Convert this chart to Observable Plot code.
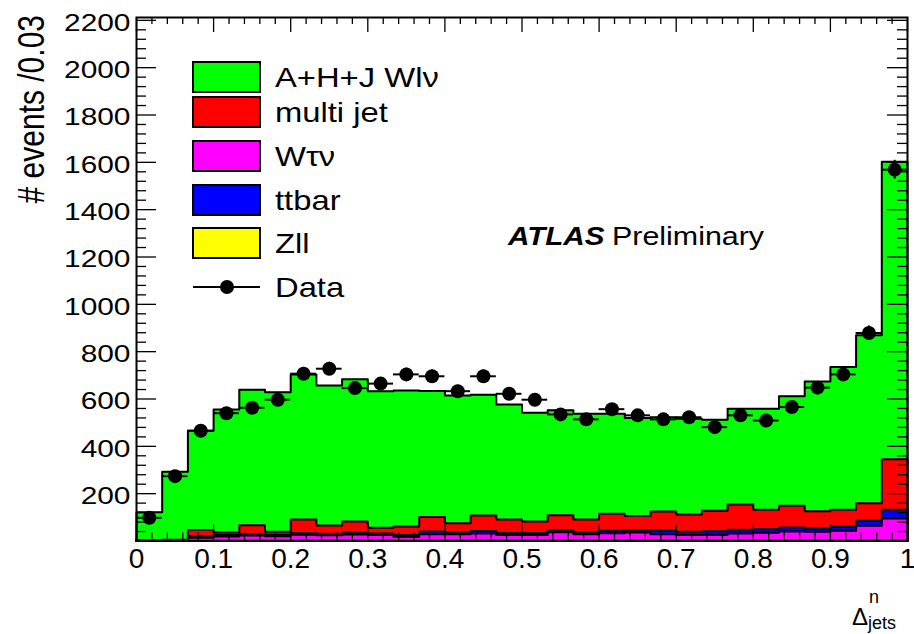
<!DOCTYPE html>
<html><head><meta charset="utf-8">
<script src="https://cdn.jsdelivr.net/npm/d3@7"></script>
<script src="https://cdn.jsdelivr.net/npm/@observablehq/plot@0.6"></script>
<style>body{margin:0;background:#fff} svg{display:block}</style>
</head><body><div id="chart"></div>
<script>
// ---------- data ----------
const nBins = 30;
const binEdges = d3.range(nBins).map(i => i / nBins);   // lower bin edges, width 1/30
const zll      = [1,1,1,1,1,1,1,1,1,1,1,1,1,1,1,1,1,1,1,1,1,1,1,1,1,1,1,1,1,1];
const wtaunu   = [2,2,13,18,22,19,25,23,26,24,16,28,27,31,24,24,36,27,32,35,28,24,24,31,34,39,38,42,63,94];
const ttbar    = [1,1,6,6,7,6,7,7,8,7,8,11,9,10,9,9,10,10,10,10,15,14,16,16,15,17,14,17,22,37];
const multijet = [0,1,27,11,37,13,58,35,47,24,36,61,38,66,57,48,62,53,72,60,81,73,87,106,82,92,73,72,74,213];
const wlnu     = [118,288,419,520,572,590,613,591,601,577,575,533,540,510,486,460,443,447,423,414,398,405,384,405,427,463,548,603,709,1257];
const dataCounts = [98,274,466,540,563,597,707,728,646,665,704,696,633,696,622,597,535,514,557,531,514,523,481,531,509,566,648,704,879,1569];

const legendLabels = ["A+H+J Wl\u03bd", "multi jet", "W\u03c4\u03bd", "ttbar", "Zll"];
const legendColors = ["#00ff00", "#ff0000", "#ff00ff", "#0000ff", "#ffff00"];
const yTickLabels = [200,400,600,800,1000,1200,1400,1600,1800,2000,2200];
const xTickLabels = [0,0.1,0.2,0.3,0.4,0.5,0.6,0.7,0.8,0.9,1];

// ---------- layout ----------
const W = 914, H = 634, mL = 136, mR = 7, mT = 17, mB = 93.5;
const yMax = 2212;
const frameW = W - mL - mR, frameH = H - mT - mB;
const font = "'Liberation Sans', Arial, Helvetica, sans-serif";

// stacked series, bottom first
const series = [
  {values: zll, color: "#ffff00"},
  {values: wtaunu, color: "#ff00ff"},
  {values: ttbar, color: "#0000ff"},
  {values: multijet, color: "#ff0000"},
  {values: wlnu, color: "#00ff00"}
];
let cum = binEdges.map(() => 0);
for (const s of series) { cum = cum.map((c, i) => c + s.values[i]); s.top = cum.slice(); }

const marks = [];
for (const s of [...series].reverse()) {
  const pts = binEdges.map((x, i) => ({x, y: s.top[i]})).concat([{x: 1, y: s.top[nBins - 1]}]);
  marks.push(Plot.areaY(pts, {x: "x", y: "y", curve: "step-after", fill: s.color}));
  const outline = [{x: 0, y: 0}, ...pts, {x: 1, y: 0}];
  marks.push(Plot.line(outline, {x: "x", y: "y", curve: "step-after", stroke: "black", strokeWidth: 2}));
}

const dataRows = dataCounts.map((v, i) => ({lo: binEdges[i], hi: binEdges[i] + 1 / nBins, c: binEdges[i] + 0.5 / nBins, v}));
marks.push(Plot.ruleY(dataRows, {y: "v", x1: "lo", x2: "hi", stroke: "black", strokeWidth: 2}));
marks.push(Plot.ruleX(dataRows, {x: "c", y1: d => d.v - Math.sqrt(d.v), y2: d => d.v + Math.sqrt(d.v), stroke: "black", strokeWidth: 2}));
marks.push(Plot.dot(dataRows, {x: "c", y: "v", r: 7, fill: "black", stroke: "none"}));

// ticks (inward, ROOT style)
const yMajor = d3.range(0, 2201, 200);
const yMinor = d3.range(0, yMax, 40).filter(v => v % 200 !== 0);
const xMajor = d3.range(0, 11).map(i => i / 10);
const xMinor = d3.range(0, 51).map(i => i / 50).filter((v, i) => i % 5 !== 0);
const tk = {stroke: "black", strokeWidth: 1.3};
marks.push(Plot.tickY(yMajor, {y: d => d, insetRight: frameW - 20, ...tk}));
marks.push(Plot.tickY(yMinor, {y: d => d, insetRight: frameW - 10, ...tk}));
marks.push(Plot.tickY(yMajor, {y: d => d, insetLeft: frameW - 20, ...tk}));
marks.push(Plot.tickY(yMinor, {y: d => d, insetLeft: frameW - 10, ...tk}));
marks.push(Plot.tickX(xMajor, {x: d => d, insetTop: frameH - 16, ...tk}));
marks.push(Plot.tickX(xMinor, {x: d => d, insetTop: frameH - 8, ...tk}));
marks.push(Plot.tickX(xMajor, {x: d => d, insetBottom: frameH - 15, ...tk}));
marks.push(Plot.tickX(xMinor, {x: d => d, insetBottom: frameH - 7, ...tk}));

marks.push(Plot.axisY(yTickLabels, {anchor: "left", tickSize: 0, tickPadding: 6, fontSize: 23, dy: 3, label: null, fill: "black",
  tickFormat: d => String(d)}));
marks.push(Plot.axisX(xTickLabels, {anchor: "bottom", tickSize: 0, tickPadding: 7.5, fontSize: 28, label: null, fill: "black",
  tickFormat: d => d === 0 ? "0" : d === 1 ? "1" : d.toFixed(1)}));
marks.push(Plot.frame({stroke: "black", strokeWidth: 2}));

const chart = Plot.plot({
  width: W, height: H,
  marginLeft: mL, marginRight: mR, marginTop: mT, marginBottom: mB,
  x: {domain: [0, 1]},
  y: {domain: [0, yMax]},
  style: {fontFamily: font, background: "white", color: "black"},
  marks
});
document.getElementById("chart").appendChild(chart);

// ---------- decorations ----------
function stretch(el, s) {
  const x = +(el.getAttribute("x") || 0);
  const t = el.getAttribute("transform") || "";
  el.setAttribute("transform", `${t} translate(${x},0) scale(${s},1) translate(${-x},0)`);
}
const svg = d3.select(chart);
svg.selectAll('g[aria-label="y-axis tick label"] text').each(function() { stretch(this, 1.3); });

const deco = svg.append("g").attr("font-family", font).attr("fill", "black").attr("text-anchor", "start");
// legend
const rowY = [77, 112, 156, 200, 243];
legendLabels.forEach((lab, i) => {
  deco.append("rect").attr("x", 193).attr("y", rowY[i] - 15).attr("width", 67).attr("height", 30)
    .attr("fill", legendColors[i]).attr("stroke", "black").attr("stroke-width", 2);
  const t = deco.append("text").attr("x", 275).attr("y", rowY[i] + 10).attr("font-size", 28).text(lab);
  stretch(t.node(), 1.17);
});
deco.append("line").attr("x1", 193).attr("x2", 260).attr("y1", 287).attr("y2", 287).attr("stroke", "black").attr("stroke-width", 2);
deco.append("circle").attr("cx", 227).attr("cy", 287).attr("r", 7).attr("fill", "black");
stretch(deco.append("text").attr("x", 275).attr("y", 297).attr("font-size", 28).text("Data").node(), 1.17);

// ATLAS label
stretch(deco.append("text").attr("x", 508).attr("y", 245).attr("font-size", 26)
  .attr("font-weight", "bold").attr("font-style", "italic").text("ATLAS").node(), 1.14);
stretch(deco.append("text").attr("x", 612).attr("y", 245).attr("font-size", 26).text("Preliminary").node(), 1.17);

// axis titles
deco.append("text").attr("transform", "translate(44,15) scale(1.2,1) rotate(-90)")
  .attr("text-anchor", "end").attr("font-size", 30).text("# events /0.03");
deco.append("text").attr("x", 852).attr("y", 625).attr("font-size", 24).text("\u0394");
deco.append("text").attr("x", 869).attr("y", 603).attr("font-size", 18).text("n");
deco.append("text").attr("x", 868).attr("y", 629).attr("font-size", 18).text("jets");
</script></body></html>
